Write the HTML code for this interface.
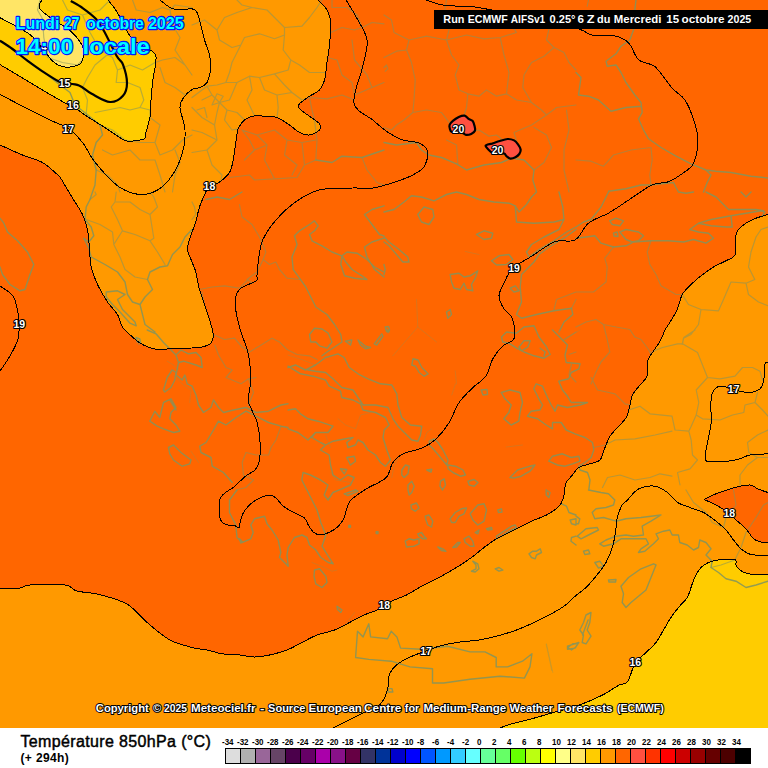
<!DOCTYPE html>
<html><head><meta charset="utf-8"><title>Meteociel - Température 850hPa</title>
<style>
html,body{margin:0;padding:0;background:#fff;}
body{width:768px;height:768px;overflow:hidden;position:relative;font-family:"Liberation Sans",sans-serif;}
svg{position:absolute;left:0;top:0;display:block;}
text{font-family:"Liberation Sans",sans-serif;}
</style></head><body>
<svg width="768" height="768" viewBox="0 0 768 768">
<rect x="0" y="0" width="768" height="768" fill="#fff"/>
<rect x="0" y="0" width="768" height="728" fill="#FF6600"/>
<g shape-rendering="crispEdges">
<path d="M0.0,145.0 C3.8,146.7 15.4,152.1 22.5,155.0 C29.6,157.9 37.1,159.6 42.5,162.5 C47.9,165.4 52.1,170.1 55.0,172.5 C57.9,174.9 57.7,174.0 60.0,177.2 C62.3,180.4 66.1,187.5 68.6,191.6 C71.1,195.7 72.7,198.2 75.0,202.0 C77.3,205.8 80.4,209.9 82.5,214.5 C84.6,219.1 86.3,223.7 87.5,229.5 C88.7,235.3 88.9,243.2 89.5,249.5 C90.1,255.8 89.9,261.2 91.2,267.0 C92.6,272.8 94.8,278.7 97.5,284.5 C100.2,290.3 104.2,297.0 107.5,302.0 C110.8,307.0 115.0,310.3 117.5,314.5 C120.0,318.7 120.0,323.2 122.5,327.0 C125.0,330.8 129.2,334.1 132.5,337.0 C135.8,339.9 138.3,342.4 142.5,344.5 C146.7,346.6 152.1,348.9 157.5,349.5 C162.9,350.1 169.2,348.5 175.0,348.2 C180.8,348.0 187.5,348.2 192.0,348.0 C196.5,347.8 198.9,347.8 202.0,347.0 C205.1,346.2 208.9,345.3 210.8,343.2 C212.6,341.2 213.5,338.5 213.2,334.5 C213.0,330.5 211.0,324.5 209.5,319.5 C208.0,314.5 206.2,309.5 204.5,304.5 C202.8,299.5 201.0,294.9 199.5,289.5 C198.0,284.1 197.0,276.6 195.8,272.0 C194.5,267.4 193.4,265.9 192.0,262.0 C190.6,258.1 187.7,253.4 187.5,248.9 C187.3,244.4 189.6,239.5 191.0,235.0 C192.4,230.5 194.3,226.7 195.8,222.0 C197.2,217.3 197.8,212.0 199.5,207.0 C201.2,202.0 204.2,195.5 205.8,192.0 C207.3,188.5 207.3,187.2 209.0,185.8 C210.7,184.4 213.8,184.5 215.8,183.8 C217.7,183.0 218.5,183.1 220.8,181.2 C223.0,179.4 227.4,176.0 229.5,172.5 C231.6,169.0 232.2,165.0 233.2,160.0 C234.3,155.0 234.9,147.7 235.8,142.5 C236.6,137.3 236.8,132.5 238.2,128.8 C239.7,125.0 241.8,122.2 244.5,120.0 C247.2,117.8 251.2,116.4 254.5,115.8 C257.8,115.1 260.8,116.0 264.5,116.2 C268.2,116.5 272.8,116.0 277.0,117.5 C281.2,119.0 285.8,122.5 289.5,125.0 C293.2,127.5 296.2,130.8 299.5,132.5 C302.8,134.2 306.2,135.4 309.5,135.0 C312.8,134.6 317.8,131.9 319.5,130.0 C321.2,128.1 321.2,126.0 319.5,123.8 C317.8,121.5 312.8,118.8 309.5,116.2 C306.2,113.8 301.2,110.8 299.5,108.8 C297.8,106.7 297.8,105.8 299.5,103.8 C301.2,101.7 306.2,98.5 309.5,96.2 C312.8,94.0 317.0,92.7 319.5,90.0 C322.0,87.3 323.2,84.6 324.5,80.0 C325.8,75.4 326.2,68.3 327.0,62.5 C327.8,56.7 328.9,51.7 329.5,45.0 C330.1,38.3 331.2,28.3 330.8,22.5 C330.3,16.7 329.1,13.8 327.0,10.0 C324.9,6.2 319.7,1.7 318.2,0.0 L0.0,0.0Z" fill="#FF9900"/>
<path d="M768.0,214.0 C767.7,214.2 768.0,214.3 766.0,215.0 C764.0,215.7 759.3,216.9 756.0,218.2 C752.7,219.6 748.9,221.4 746.0,223.2 C743.1,225.1 740.2,227.2 738.5,229.5 C736.8,231.8 736.0,232.8 735.5,237.0 C735.0,241.2 736.8,250.5 735.2,254.5 C733.7,258.5 729.6,258.7 726.0,260.8 C722.4,262.8 717.7,264.5 713.5,267.0 C709.3,269.5 705.0,272.6 701.0,275.8 C697.0,278.9 692.9,282.6 689.8,285.8 C686.6,288.9 683.9,291.8 682.2,294.5 C680.6,297.2 680.8,299.1 679.8,302.0 C678.7,304.9 677.9,308.2 676.0,312.0 C674.1,315.8 670.3,321.5 668.5,324.5 C666.7,327.5 666.4,327.2 665.0,330.0 C663.6,332.8 662.1,337.5 660.0,341.2 C657.9,345.0 654.6,349.2 652.5,352.5 C650.4,355.8 648.4,357.3 647.5,361.2 C646.6,365.2 648.2,372.3 647.0,376.2 C645.8,380.2 642.4,381.9 640.0,385.0 C637.6,388.1 634.2,391.7 632.5,395.0 C630.8,398.3 631.0,401.2 630.0,405.0 C629.0,408.8 628.3,413.8 626.2,417.5 C624.2,421.2 620.2,424.4 617.5,427.5 C614.8,430.6 612.1,432.9 610.0,436.2 C607.9,439.6 606.7,443.5 605.0,447.5 C603.3,451.5 602.5,457.3 600.0,460.0 C597.5,462.7 593.5,462.5 590.0,463.8 C586.5,465.0 581.7,465.6 578.8,467.5 C575.8,469.4 574.6,472.5 572.5,475.0 C570.4,477.5 567.6,480.0 566.2,482.5 C564.9,485.0 565.0,487.5 564.5,490.0 C564.0,492.5 564.4,494.8 563.5,497.5 C562.6,500.2 561.8,503.3 559.0,506.2 C556.2,509.2 551.1,512.5 546.5,515.0 C541.9,517.5 536.9,518.8 531.5,521.2 C526.1,523.8 519.8,527.1 514.0,530.0 C508.2,532.9 501.5,535.8 496.5,538.8 C491.5,541.7 488.2,544.4 484.0,547.5 C479.8,550.6 476.1,554.2 471.5,557.5 C466.9,560.8 461.9,564.2 456.5,567.5 C451.1,570.8 444.8,574.4 439.0,577.5 C433.2,580.6 426.9,583.3 421.5,586.2 C416.1,589.2 411.5,592.5 406.5,595.0 C401.5,597.5 396.2,598.8 391.5,601.2 C386.8,603.7 382.3,607.4 378.2,609.5 C374.2,611.6 371.4,611.8 367.0,613.8 C362.6,615.7 357.4,618.5 352.0,621.2 C346.6,624.0 340.3,627.7 334.5,630.0 C328.7,632.3 322.4,632.9 317.0,635.0 C311.6,637.1 307.0,640.0 302.0,642.5 C297.0,645.0 292.4,647.9 287.0,650.0 C281.6,652.1 274.9,653.8 269.5,655.0 C264.1,656.2 259.5,657.0 254.5,657.0 C249.5,657.0 244.9,655.5 239.5,655.0 C234.1,654.5 227.4,654.6 222.0,653.8 C216.6,652.9 212.0,651.0 207.0,650.0 C202.0,649.0 198.2,649.2 192.0,647.5 C185.8,645.8 177.0,643.8 170.0,640.0 C163.0,636.2 156.2,630.2 150.0,625.0 C143.8,619.8 137.5,612.5 133.0,608.7 C128.5,604.9 129.1,604.5 123.0,602.0 C117.0,599.5 104.4,595.8 96.7,594.0 C89.0,592.2 82.0,592.5 76.7,591.0 C71.4,589.5 72.8,586.0 65.0,585.0 C57.2,584.0 37.5,584.5 30.0,585.0 C22.5,585.5 25.0,587.5 20.0,588.0 C15.0,588.5 3.3,588.0 0.0,588.0 L0.0,728.0 L768.0,728.0Z" fill="#FF9900"/>
<path d="M704.0,499.5 C706.0,498.5 710.8,495.8 716.0,493.8 C721.2,491.8 729.3,489.0 735.0,487.5 C740.7,486.0 746.2,484.8 750.0,485.0 C753.8,485.2 754.5,487.5 757.5,488.8 C760.5,490.0 766.2,491.9 768.0,492.5 L768,543  C766.8,542.8 763.4,542.7 761.0,542.0 C758.6,541.3 756.0,541.0 753.5,538.8 C751.0,536.5 748.9,531.9 746.0,528.8 C743.1,525.6 739.3,522.9 736.0,520.0 C732.7,517.1 729.3,513.8 726.0,511.2 C722.7,508.8 719.7,507.0 716.0,505.0 C712.3,503.0 706.0,500.4 704.0,499.5Z" fill="#FF6600"/>
<path d="M500.0,728.0 C502.0,727.3 506.7,725.2 512.0,723.7 C517.3,722.2 524.8,720.7 532.0,718.7 C539.2,716.8 547.5,714.2 555.3,712.0 C563.1,709.8 570.9,708.1 578.7,705.3 C586.5,702.5 595.3,698.6 602.0,695.3 C608.7,692.0 614.5,687.5 618.7,685.3 C622.9,683.1 625.0,684.5 627.2,682.0 C629.5,679.5 630.9,673.3 632.2,670.0 C633.6,666.7 633.2,664.9 635.5,662.0 C637.8,659.1 642.6,655.8 646.0,652.5 C649.4,649.2 653.1,646.2 656.0,642.5 C658.9,638.8 661.0,634.2 663.5,630.0 C666.0,625.8 668.5,621.2 671.0,617.5 C673.5,613.8 675.8,610.8 678.5,607.5 C681.2,604.2 685.2,600.8 687.2,597.5 C689.3,594.2 689.8,590.8 691.0,587.5 C692.2,584.2 693.1,580.8 694.8,577.5 C696.4,574.2 698.7,570.0 701.0,567.5 C703.3,565.0 705.6,563.8 708.5,562.5 C711.4,561.2 714.1,560.5 718.5,560.0 C722.9,559.5 731.8,558.7 734.8,559.5 C737.7,560.3 735.2,563.2 736.0,565.0 C736.8,566.8 737.7,568.5 739.8,570.0 C741.8,571.5 745.4,573.0 748.5,573.8 C751.6,574.5 755.2,574.4 758.5,574.5 C761.8,574.6 766.4,574.3 768.0,574.2 L768.0,728.0Z" fill="#FFCC00"/>
<path d="M108.0,0.0 C109.5,1.9 113.9,7.0 116.7,11.5 C119.5,16.0 122.3,22.3 125.0,27.0 C127.7,31.7 128.3,35.4 133.0,39.6 C137.7,43.8 149.2,48.5 153.0,52.0 C156.8,55.5 156.0,55.9 156.0,60.4 C156.0,64.9 153.8,72.4 153.0,79.0 C152.2,85.6 151.5,93.7 151.0,100.0 C150.5,106.3 150.9,111.2 150.0,116.7 C149.1,122.2 146.8,129.3 145.8,133.0 C144.8,136.7 146.9,137.7 143.8,139.0 C140.7,140.3 131.5,141.6 127.0,141.0 C122.5,140.4 120.5,137.7 116.7,135.4 C112.9,133.1 108.9,130.1 104.0,127.0 C99.1,123.9 92.0,119.6 87.5,116.7 C83.0,113.8 80.5,111.5 77.0,109.4 C73.5,107.3 72.6,107.3 66.7,104.0 C60.8,100.7 49.4,94.1 41.7,89.6 C34.1,85.1 27.8,81.2 20.8,77.0 C13.9,72.8 3.5,66.7 0.0,64.6 L0.0,0.0Z" fill="#FFCC00"/>
<path d="M41.7,0.0 C41.4,1.4 37.9,5.2 39.6,8.3 C41.3,11.4 46.8,15.0 52.0,18.8 C57.2,22.6 65.8,26.8 70.8,31.3 C75.8,35.8 80.2,41.6 82.3,45.8 C84.4,50.0 83.8,53.2 83.3,56.3 C82.8,59.4 82.3,62.8 79.2,64.6 C76.1,66.4 69.0,67.5 64.6,67.0 C60.2,66.5 56.3,64.2 53.0,61.5 C49.7,58.8 48.5,55.4 44.8,51.0 C41.1,46.6 35.9,39.6 31.0,35.4 C26.1,31.2 20.8,28.9 15.6,26.0 C10.4,23.1 2.6,19.1 0.0,17.7 L0.0,0.0Z" fill="#FFE566"/>
<path d="M449.7,124.7 C450.2,123.5 451.4,122.1 452.9,120.8 C454.4,119.5 456.9,117.8 458.8,116.9 C460.8,116.0 463.0,115.3 464.6,115.6 C466.2,115.9 467.3,118.0 468.6,118.9 C469.9,119.8 471.5,119.7 472.5,120.8 C473.5,121.9 474.0,123.8 474.4,125.4 C474.8,127.0 475.5,129.2 475.0,130.6 C474.5,132.0 472.7,133.2 471.2,133.9 C469.7,134.6 467.5,135.1 466.0,134.9 C464.5,134.7 464.3,133.1 462.0,132.6 C459.7,132.1 454.1,132.8 452.0,132.0 C449.9,131.2 450.1,129.2 449.7,128.0 C449.3,126.8 449.2,125.9 449.7,124.7Z" fill="#FF5040"/>
<path d="M486.8,144.9 C487.8,144.3 489.8,144.2 492.0,143.6 C494.2,142.9 497.2,141.8 499.8,141.0 C502.4,140.2 505.2,139.1 507.6,139.0 C510.0,138.9 512.4,139.5 514.1,140.4 C515.8,141.3 516.9,142.8 518.0,144.3 C519.1,145.8 520.4,147.9 520.6,149.5 C520.8,151.1 520.2,152.7 519.3,154.0 C518.4,155.3 516.9,156.5 515.4,157.3 C513.9,158.1 511.7,158.8 510.2,158.6 C508.7,158.4 507.4,156.9 506.3,156.0 C505.2,155.1 505.9,153.8 503.7,153.4 C501.5,153.0 496.2,154.5 493.3,153.4 C490.4,152.3 487.2,148.3 486.1,146.9 C485.0,145.5 485.8,145.5 486.8,144.9Z" fill="#FF5040"/>
</g>
<g fill="none" stroke-linejoin="round" stroke-linecap="round" stroke="#80945E">
<path d="M0.0,41.2 L10.0,47.5 L22.5,56.2 L35.0,66.2 L47.5,75.0 L60.0,85.0 L70.0,92.5 L75.0,105.0 L86.2,113.8 L100.0,125.0 L102.5,135.0 L96.2,142.5 L92.5,155.0 L96.2,170.0 L95.0,185.0 L92.5,192.0 M315.8,160.0 L332.0,162.5 L342.0,156.2 L362.0,157.5 L384.0,150.0 M384.0,142.5 L396.5,145.0 L416.5,142.5 L421.5,150.0 L429.0,155.0 L441.5,157.5 L456.5,163.8 L466.5,170.0 L484.0,165.0 L501.5,162.5 L511.5,158.0 M511.5,158.0 L524.0,160.0 L534.0,170.0 L532.8,180.0 L536.5,192.0 M636.0,0.0 L634.8,10.0 L633.5,30.0 L629.8,40.0 L621.0,46.2 L616.0,53.8 L606.0,61.2 L607.2,66.2 L616.0,65.0 L621.0,72.5 L626.0,82.5 L634.8,95.0 L641.0,102.5 L642.2,112.5 L638.5,118.8 L643.5,130.0 L648.5,138.8 L661.0,147.5 L676.0,156.2 L691.0,163.8 L706.0,170.0 L716.0,171.2 L731.0,172.5 L751.0,176.2 L768.0,178.0 M576.0,72.5 L581.0,77.5 L578.5,95.0 L588.5,96.2 L598.5,100.0 L611.0,111.2 L626.0,107.5 L641.0,106.2 M706.0,170.0 L711.0,175.0 L707.2,182.5 L703.5,192.0 M608.5,191.2 L626.0,188.8 L641.0,185.0 L651.0,185.0 L661.0,183.8 L673.5,182.5 L676.0,187.5 L678.5,192.0 M0.0,218.2 L3.8,223.2 L7.5,232.0 L17.5,240.8 L27.5,252.0 L33.8,264.5 L30.0,274.5 L25.0,289.5 L20.0,290.8 L10.0,284.5 L2.5,274.5 L0.0,267.0 M92.5,192.0 L90.0,199.5 L86.2,207.0 L85.0,219.5 L91.2,227.0 L93.8,235.8 L88.8,242.0 L83.8,238.2 L88.8,248.2 L91.2,257.0 L105.0,264.5 L117.5,272.0 L125.0,282.0 L127.5,294.5 L132.5,302.0 L140.0,304.5 L142.5,314.5 L145.0,324.5 L155.0,332.0 M106.2,292.0 L117.5,290.8 L125.0,294.5 L117.5,299.5 L122.5,309.5 L130.0,317.0 L135.0,322.0 L136.2,325.8 L130.0,323.2 L120.0,312.0 L112.5,304.5 L106.2,297.0 L106.2,292.0 M147.5,279.5 L150.0,272.0 L160.0,267.0 L167.5,265.8 L172.5,254.5 L180.0,247.0 L185.0,237.0 L192.0,229.5 M147.5,279.5 L152.5,289.5 L145.0,297.0 L140.0,304.5 M294.5,235.8 L299.5,230.8 L309.5,224.5 L314.5,220.8 L318.2,225.8 L314.5,230.8 L309.5,234.5 L312.0,240.8 L322.0,245.8 L332.0,252.0 L342.0,255.8 L347.0,252.0 L357.0,253.2 L367.0,259.5 L374.5,267.0 L384.0,272.0 M342.0,255.8 L340.8,264.5 L344.5,275.8 L354.5,278.2 L367.0,279.5 L362.0,275.8 L352.0,269.5 L345.8,262.0 L342.0,255.8 M384.0,238.2 L372.0,242.0 L364.5,247.0 L367.0,257.0 L374.5,269.5 L384.0,277.0 M384.0,205.8 L372.0,209.5 L364.5,214.5 L372.0,224.5 L379.5,234.5 L384.0,235.8 M294.5,235.8 L297.0,244.5 L292.0,257.0 L293.2,269.5 L299.5,278.2 L305.8,287.0 L310.8,297.0 L315.8,307.0 L327.0,314.5 L334.5,324.5 L340.8,334.5 L342.0,342.0 L334.5,347.0 L327.0,352.0 L322.0,355.8 M309.5,334.5 L314.5,328.2 L322.0,329.0 L328.2,333.2 L332.0,342.0 L327.0,348.2 L319.5,345.8 L315.8,342.0 L310.8,342.0 L309.5,334.5 M205.8,199.5 L217.0,197.0 L229.5,199.5 L242.0,192.0 M384.0,212.0 L394.0,209.5 L404.0,202.0 L411.5,195.8 L421.5,197.0 L434.0,200.8 L446.5,194.5 L456.5,192.0 M456.5,192.0 L466.5,194.5 L479.0,199.5 L494.0,202.0 L509.0,203.2 L515.2,205.8 L519.0,212.0 L526.5,204.5 L531.5,197.0 L536.5,192.0 M417.8,214.5 L424.0,207.0 L432.8,209.5 L434.0,217.0 L429.0,224.5 L421.5,222.0 L417.8,214.5 M476.5,234.5 L484.0,230.8 L492.8,233.2 L491.5,238.2 L484.0,239.5 L476.5,234.5 M515.2,205.8 L516.5,222.0 L534.0,223.2 L554.0,222.0 L564.0,219.5 L562.8,207.0 L559.0,192.0 M564.0,219.5 L559.0,229.5 L544.0,237.0 L531.5,244.5 L526.5,252.0 L529.0,257.0 L539.0,249.5 L554.0,240.8 L566.5,232.0 L576.0,227.0 M576.0,229.5 L564.0,238.2 L549.0,247.0 L539.0,254.5 L534.0,262.0 L526.5,269.5 L521.5,274.5 L520.2,287.0 L521.5,302.0 L516.5,314.5 L521.5,318.2 L536.5,314.5 L554.0,310.8 L571.5,308.2 L572.8,314.5 L564.0,322.0 L559.0,332.0 M491.5,260.8 L499.0,255.8 L509.0,254.5 L512.8,259.5 L506.5,264.5 L496.5,265.0 L491.5,260.8 M510.2,288.2 L515.2,285.8 L519.0,290.8 L514.0,292.0 L510.2,288.2 M450.2,274.5 L459.0,273.2 L464.0,277.0 L470.2,275.8 L477.8,270.8 L475.2,278.2 L471.5,284.5 L472.8,290.8 L466.5,289.5 L464.0,283.2 L460.2,289.5 L454.0,288.2 L451.5,282.0 L450.2,274.5 M446.5,312.0 L450.2,309.5 L451.5,314.5 L447.8,318.2 L446.5,312.0 M384.0,237.0 L389.0,242.0 L399.0,249.5 L407.8,257.0 L409.0,262.0 L402.8,262.0 L396.5,254.5 L389.0,245.8 L384.0,242.0 M384.0,264.5 L385.2,269.5 L384.0,274.5 M385.2,327.0 L388.5,326.5 L389.5,330.0 L386.5,331.5 L385.2,327.0 M501.5,337.0 L506.5,332.0 L516.5,333.2 L524.0,327.0 L534.0,325.8 L539.0,337.0 L546.5,347.0 L550.2,354.5 L544.0,358.2 L534.0,355.8 L524.0,352.0 L516.5,348.2 L509.0,343.2 L502.8,342.0 L501.5,337.0 M519.0,347.0 L524.0,340.8 L530.2,340.8 L527.8,347.0 L521.5,350.8 L519.0,347.0 M540.2,348.2 L545.2,352.0 L544.0,355.8 M576.0,227.0 L583.5,222.0 L591.0,219.5 L601.0,207.0 L608.5,192.0 M609.8,220.8 L616.0,218.2 L623.5,220.8 L619.8,225.8 L612.2,224.5 L609.8,220.8 M619.8,232.0 L626.0,229.5 L638.5,232.0 L643.5,235.8 L638.5,240.8 L632.2,242.0 L626.0,239.5 L619.8,232.0 M613.5,233.2 L617.2,232.0 L618.0,236.5 L614.0,236.0 L613.5,233.2 M576.0,238.2 L586.0,237.0 L594.8,235.8 L601.0,243.2 L613.5,247.0 L626.0,245.8 L633.5,242.0 L651.0,240.8 L668.5,240.8 L683.5,242.0 L693.5,239.5 L706.0,243.2 L713.5,238.2 L708.5,233.2 L698.5,232.0 L689.8,229.5 L698.5,223.2 L711.0,219.5 L731.0,215.8 L746.0,213.2 L761.0,210.8 L764.8,212.0 L762.2,215.8 M706.0,192.0 L716.0,197.0 L723.5,204.5 L728.5,209.5 L741.0,209.5 L756.0,209.5 L763.5,210.8 M741.0,192.0 L746.0,197.0 L751.0,192.0 M678.5,192.0 L686.0,193.2 L693.5,192.0 M731.0,215.8 L732.2,227.0 L726.0,227.0 L711.0,225.8 L698.5,223.2 M147.2,330.0 L156.0,333.8 L163.5,342.5 L171.0,350.0 L176.0,355.0 L178.5,362.5 L183.5,361.2 L196.0,365.0 L202.2,367.5 L201.0,357.5 L196.0,352.5 L188.5,353.8 L181.0,350.0 L176.0,355.0 M163.5,390.0 L167.2,377.5 L172.2,370.0 L176.0,372.5 L174.8,380.0 L171.0,387.5 L164.8,392.0 L163.5,390.0 M178.5,362.5 L176.0,375.0 L182.2,380.0 L184.8,375.0 L187.2,383.8 L192.2,386.2 L196.0,395.0 L198.5,405.0 L203.5,412.5 L211.0,407.5 L213.5,400.0 L218.5,407.5 L223.5,412.5 L233.5,410.0 L246.0,407.5 L256.0,412.5 L268.5,411.2 L281.0,405.0 L288.0,403.8 M149.8,421.2 L154.8,411.2 L159.8,417.5 L163.5,402.5 L171.0,398.8 L176.0,407.5 L171.0,412.5 L169.8,418.8 L176.0,425.0 L179.8,431.2 L173.5,432.5 L163.5,428.8 L157.2,426.2 L149.8,421.2 M169.8,400.0 L172.2,403.8 L176.0,410.0 M168.5,447.5 L173.5,445.0 L181.0,452.5 L191.0,460.0 L189.8,463.8 L182.2,466.2 L173.5,460.0 L169.8,453.8 L168.5,447.5 M218.5,421.2 L213.5,430.0 L206.0,442.5 L199.8,446.2 L201.0,452.5 L211.0,457.5 L212.2,466.2 L223.5,472.5 L232.2,482.5 M218.5,421.2 L226.0,425.0 L236.0,417.5 L246.0,411.2 L256.0,416.2 L268.5,422.5 L281.0,426.2 L288.0,427.5 M136.0,337.5 L139.8,338.8 L140.5,342.5 L137.2,342.0 L136.0,337.5 M288.0,367.5 L295.5,365.0 L305.5,370.0 L315.5,365.0 L325.5,357.5 L338.0,353.8 L344.2,357.5 L349.2,367.5 L358.0,373.8 L368.0,378.8 L380.5,383.8 L391.8,385.0 L396.8,393.8 L398.0,405.0 L401.8,417.5 L410.5,425.0 L421.8,426.2 L420.5,435.0 L418.0,441.2 L411.8,440.0 L405.5,433.8 L398.0,426.2 L393.0,418.8 L388.0,407.5 L375.5,405.0 L363.0,405.0 L358.0,397.5 L353.0,390.0 L341.8,387.5 L333.0,378.8 L325.5,372.5 L315.5,371.2 L308.0,370.0 M288.0,366.2 L300.5,373.8 L313.0,376.2 L325.5,380.0 L329.2,386.2 L340.5,391.2 L341.8,397.5 L353.0,400.0 L360.5,403.8 L363.0,410.0 L375.5,412.5 L385.5,417.5 L389.2,425.0 L384.2,430.0 L383.0,437.5 L386.8,450.0 L390.5,460.0 L385.5,466.2 L380.5,462.5 L375.5,455.0 L368.0,450.0 L363.0,442.5 L358.0,440.0 L355.5,445.0 L348.0,447.5 L346.8,442.5 L353.0,437.5 L345.5,438.8 L333.0,441.2 L325.5,445.0 L320.5,450.0 L329.2,455.0 L330.5,465.0 L333.0,475.0 L340.5,480.0 L348.0,475.0 L354.2,477.5 L350.5,485.0 L341.8,488.8 L333.0,492.5 L328.0,500.0 L324.2,495.0 L328.0,485.0 L320.5,480.0 L310.5,475.0 L303.0,472.5 L301.8,480.0 L306.8,490.0 M288.0,410.0 L295.5,408.8 L300.5,413.8 L308.0,418.8 L318.0,421.2 L333.0,426.2 L328.0,432.5 L315.5,432.5 L311.8,437.5 L320.5,442.5 L325.5,445.0 M288.0,428.8 L298.0,432.5 L308.0,440.0 L315.5,432.5 M345.5,341.2 L351.8,340.0 L350.5,345.0 L345.5,341.2 M358.0,340.0 L365.5,346.2 L370.5,347.5 L365.5,348.8 L360.5,345.0 L358.0,340.0 M374.2,343.8 L381.8,333.8 L383.0,336.2 L376.8,345.0 L374.2,343.8 M386.8,330.0 L389.2,331.2 L388.0,332.5 L386.8,330.0 M413.0,358.8 L418.0,360.0 L421.8,367.5 L428.0,373.8 L424.2,376.2 L419.2,372.5 L415.5,366.2 L411.8,365.0 L413.0,358.8 M429.2,441.2 L434.2,438.8 L438.0,442.5 L443.0,450.0 L448.0,460.0 L446.8,465.0 L440.5,457.5 L434.2,450.0 L429.2,445.0 L429.2,441.2 M448.0,465.0 L455.5,466.2 L463.0,470.0 L465.5,475.0 L460.5,476.2 L453.0,472.5 L448.0,468.8 L448.0,465.0 M468.0,481.2 L474.2,479.5 L478.0,482.5 L474.2,486.2 L469.2,485.0 L468.0,481.2 M401.8,470.0 L405.5,465.0 L409.2,466.2 L408.0,473.8 L404.2,477.5 L401.8,475.0 L401.8,470.0 M408.0,485.0 L411.8,481.2 L414.2,486.2 L411.8,492.5 L409.2,495.0 L408.0,490.0 L408.0,485.0 M440.5,481.2 L444.2,478.8 L445.5,485.0 L442.5,490.0 L440.0,486.2 L440.5,481.2 M426.8,470.0 L431.8,469.2 L431.0,472.0 L426.8,470.0 M346.8,457.5 L354.2,456.2 L355.5,461.2 L350.5,465.0 L346.8,457.5 M340.5,468.8 L346.8,469.5 L344.2,473.8 L340.5,468.8 M344.2,493.8 L355.5,490.0 L358.0,491.2 L348.0,495.5 L344.2,493.8 M552.5,330.0 L560.0,337.5 L567.5,345.0 L565.0,355.0 L566.2,362.5 L580.0,363.8 L578.8,368.8 L571.2,372.5 L568.8,378.8 L558.8,381.2 L562.5,390.0 L567.5,396.2 L571.2,402.5 L580.0,402.5 L587.5,402.5 L580.0,405.0 L567.5,407.5 L557.5,405.0 L555.0,411.2 L551.2,405.0 L547.5,397.5 L542.5,386.2 L536.2,383.8 L533.8,388.8 L538.8,398.8 L542.5,405.0 L540.0,410.0 L531.2,411.2 L527.5,416.2 L537.5,418.8 L546.2,425.0 L552.5,428.8 L552.5,422.5 L561.2,422.5 L566.2,430.0 L575.0,433.8 L585.0,437.5 L592.5,442.5 L593.8,450.0 L591.2,457.5 L585.0,462.5 L578.8,466.2 L580.0,470.0 L587.5,472.5 L590.0,480.0 L588.8,490.0 M501.2,392.5 L510.0,390.0 L520.0,392.5 L522.5,402.5 L520.0,412.5 L518.8,421.2 L511.2,425.0 L503.8,418.8 L508.8,412.5 L511.2,405.0 L505.0,398.8 L501.2,392.5 M481.2,390.0 L487.0,389.5 L487.5,394.5 L483.0,395.0 L481.2,390.0 M548.8,461.2 L552.5,456.2 L562.5,453.8 L571.2,457.5 L578.8,456.2 L580.0,461.2 L572.5,463.8 L565.0,466.2 L557.5,465.0 L548.8,461.2 M510.0,477.5 L517.5,470.0 L530.0,466.2 L535.0,465.0 L530.0,471.2 L521.2,476.2 L513.8,478.0 L510.0,477.5 M546.2,490.0 L550.0,492.5 L548.8,497.5 L546.2,495.0 L546.2,490.0 M237.0,490.0 L229.5,500.0 L229.5,512.5 L235.8,525.0 L237.0,537.5 L242.0,542.5 L250.8,538.8 L253.2,532.5 L250.8,525.0 L254.5,518.8 L264.5,516.2 L267.0,523.8 L272.0,530.0 L278.2,540.0 L280.8,552.5 L279.5,557.5 L285.8,563.8 L288.2,566.2 L287.0,555.0 L288.2,547.5 L294.5,537.5 L302.0,535.0 L307.0,537.5 L309.5,545.0 L315.8,550.0 L320.8,557.5 L328.2,562.5 L333.2,563.8 L328.2,556.2 L322.0,546.2 L325.8,535.0 L320.8,522.5 L317.0,510.0 L313.2,502.5 L307.0,490.0 M314.5,570.0 L319.5,568.8 L325.8,576.2 L327.0,582.5 L322.0,587.5 L315.8,583.8 L314.0,576.2 L314.5,570.0 M337.0,606.2 L342.0,610.0 L340.8,612.5 L337.5,609.5 L337.0,606.2 M348.8,525.5 L350.5,525.5 L350.5,527.2 L348.8,527.2 L348.8,525.5 M376.2,531.8 L378.0,531.8 L378.0,533.5 L376.2,533.5 L376.2,531.8 M239.5,538.8 L242.0,541.2 L240.8,543.0 L239.5,538.8 M411.0,505.0 L416.5,503.0 L419.0,508.0 L415.2,511.2 L411.5,508.8 L411.0,505.0 M425.2,516.2 L429.0,515.0 L432.8,521.2 L431.5,527.0 L427.8,525.0 L426.0,520.0 L425.2,516.2 M450.2,518.8 L455.2,512.5 L461.5,508.8 L466.5,508.0 L464.0,513.8 L459.0,516.2 L455.2,522.5 L451.5,522.5 L450.2,518.8 M470.2,513.8 L477.8,505.0 L484.0,503.8 L486.5,510.0 L484.0,521.2 L477.8,525.0 L472.8,520.0 L470.2,513.8 M497.8,510.0 L501.5,508.8 L502.0,512.0 L498.5,512.5 L497.8,510.0 M486.5,528.8 L491.5,527.5 L492.0,529.5 L487.8,530.0 L486.5,528.8 M475.2,532.5 L479.0,530.0 L477.8,533.8 L475.2,532.5 M496.5,536.2 L504.0,531.2 L511.5,526.2 L515.2,525.0 L516.5,527.5 L509.0,531.2 L501.5,536.2 L496.5,538.8 L496.5,536.2 M405.2,541.2 L409.0,538.8 L414.0,540.0 L419.0,538.8 L419.0,543.8 L414.0,546.2 L406.5,547.0 L405.2,541.2 M417.8,533.8 L421.5,532.5 L424.0,536.2 L426.5,538.8 L422.8,538.8 L419.0,536.2 L417.8,533.8 M437.8,547.0 L442.8,548.8 L446.0,551.2 L441.5,550.5 L437.8,547.0 M452.8,547.5 L457.8,542.5 L460.2,542.5 L456.5,547.0 L452.8,547.5 M464.0,538.8 L469.0,536.2 L472.8,541.2 L474.0,546.2 L470.2,546.2 L465.2,542.5 L464.0,538.8 M472.8,561.2 L477.8,563.8 L479.0,568.8 L475.2,572.0 L471.5,571.2 L476.0,568.8 L476.0,565.0 L472.8,561.2 M495.2,568.8 L499.0,567.5 L502.8,570.0 L499.0,571.2 L495.2,568.8 M529.0,553.8 L532.8,551.2 L536.5,551.2 L540.2,548.8 L541.5,552.5 L536.5,555.0 L535.2,558.8 L531.5,557.5 L529.0,553.8 M561.5,503.8 L566.5,506.2 L569.0,512.5 L576.0,515.0 M570.2,520.0 L576.0,518.8 L576.0,525.0 L571.5,523.8 L570.2,520.0 M571.5,537.5 L576.0,536.2 M571.5,537.5 L571.0,541.2 L576.0,545.0 M567.8,647.5 L572.8,643.8 L576.0,643.8 M567.8,647.5 L571.5,650.0 L576.0,647.0 M355.6,657.5 L357.5,631.2 L363.1,636.9 L368.8,623.8 L370.6,636.9 L387.5,638.8 L391.2,631.2 L396.9,636.9 L400.6,648.1 L421.2,649.2 L447.5,646.2 L470.0,651.9 L485.0,651.9 L496.2,657.5 L496.2,666.9 L507.5,666.9 L522.5,661.2 L531.9,653.8 L530.0,666.9 L524.4,678.1 L500.0,676.2 L470.0,679.2 L443.8,683.0 L432.5,683.0 L432.5,668.8 L410.0,666.9 L391.2,661.2 L368.8,659.4 L355.6,657.5 M387.5,688.6 L392.0,688.6 L392.8,692.0 L388.2,692.0 L387.5,688.6 M567.5,646.2 L578.8,642.5 L575.0,648.1 L567.5,649.2 L567.5,646.2 M582.5,635.0 L588.1,620.0 M588.5,490.0 L601.0,492.5 L608.5,493.8 L614.8,500.0 L613.5,505.0 L606.0,507.5 L596.0,508.8 L592.2,512.5 L594.8,518.8 L603.5,517.5 L616.0,521.2 L626.0,518.8 L641.0,517.5 L661.0,515.0 L651.0,521.2 L642.2,526.2 L643.5,535.0 L633.5,536.2 L626.0,535.0 L616.0,536.2 L606.0,540.0 L599.8,543.8 L603.5,546.2 L613.5,543.8 L621.0,538.8 L633.5,538.8 L646.0,538.8 L648.5,543.8 L641.0,548.8 L638.5,552.5 L644.8,551.2 L653.5,543.8 L658.5,538.8 L656.0,533.8 L663.5,531.2 L669.8,530.0 L672.2,535.0 L678.5,535.0 L679.8,542.5 L687.2,545.0 L693.5,550.0 L698.5,547.5 L699.8,540.0 L706.0,542.5 L711.0,548.8 L706.0,555.0 L712.2,561.2 L711.0,567.5 L718.5,572.5 L726.0,578.8 L736.0,581.2 L746.0,587.5 L756.0,585.0 L768.0,581.2 M577.2,536.2 L586.0,528.8 L597.2,527.5 L598.5,530.0 L588.5,535.0 L581.0,538.8 L577.2,536.2 M583.5,551.2 L588.5,550.0 L589.8,553.8 L584.8,554.5 L583.5,551.2 M594.8,562.5 L599.8,561.2 L603.5,566.2 L598.5,568.0 L594.8,562.5 M608.5,580.0 L616.0,579.5 L615.5,582.0 L609.0,582.0 L608.5,580.0 M621.0,586.2 L628.5,577.5 L641.0,568.8 L653.5,563.8 L656.0,565.0 L651.0,577.5 L646.0,590.0 L638.5,596.2 L631.0,602.5 L626.0,607.5 L622.2,602.5 L623.5,593.8 L621.0,586.2 M586.0,615.0 L591.0,612.5 L589.8,622.5 L587.2,630.0 L591.0,636.2 L586.0,643.8 L582.2,642.5 L583.5,635.0 L579.8,630.0 L583.5,622.5 L586.0,615.0 M576.0,516.2 L579.8,518.8 L578.5,523.8 L576.0,523.8" stroke-width="1.4" stroke-opacity="0.85"/>
<path d="M40.0,0.0 L37.5,10.0 L42.5,18.8 L43.8,37.5 L47.5,57.5 L62.5,62.5 L77.5,65.0 L82.5,60.0 M62.5,0.0 L67.5,10.0 L82.5,15.0 L90.0,32.5 L100.0,50.0 L112.5,57.5 L117.5,70.0 L116.2,82.5 L127.5,82.5 L140.0,87.5 L143.8,100.0 L140.0,107.5 L150.0,110.0 M132.5,0.0 L136.2,10.0 L150.0,12.5 L162.5,7.5 L170.0,10.0 L175.0,5.0 L192.0,7.5 M110.0,52.5 L95.0,65.0 L87.5,77.5 L82.5,87.5 L87.5,100.0 L86.2,113.8 M95.0,112.5 L107.5,110.0 L120.0,107.5 L130.0,110.0 L140.0,107.5 M155.0,62.5 L162.5,60.0 L175.0,57.5 L185.0,65.0 L192.0,75.0 M160.0,67.5 L165.0,82.5 L175.0,87.5 L185.0,95.0 L192.0,90.0 M150.0,110.0 L150.0,117.5 L160.0,125.0 L155.0,142.5 L160.0,155.0 L172.5,150.0 L182.5,140.0 L192.0,135.0 M100.0,125.0 L112.5,130.0 L125.0,140.0 L140.0,142.5 L155.0,142.5 M102.5,150.0 L112.5,155.0 L130.0,150.0 L140.0,160.0 L155.0,160.0 L160.0,175.0 L165.0,192.0 M96.2,170.0 L107.5,175.0 L117.5,185.0 L120.0,192.0 M175.0,150.0 L180.0,162.5 L175.0,175.0 L172.5,192.0 M170.0,10.0 L172.5,25.0 L180.0,37.5 L175.0,50.0 L185.0,65.0 M117.5,70.0 L130.0,65.0 L142.5,70.0 L155.0,62.5 M82.5,15.0 L100.0,10.0 L110.0,0.0 M217.0,30.0 L224.5,17.5 L237.0,12.5 L252.0,7.5 L267.0,10.0 L274.5,17.5 L284.5,27.5 L302.0,26.2 L309.5,17.5 L317.0,7.5 L322.0,0.0 M217.0,30.0 L219.5,40.0 L232.0,47.5 L240.8,45.0 L244.5,37.5 L259.5,33.8 L274.5,38.8 L284.5,35.0 L284.5,27.5 M284.5,35.0 L283.2,50.0 L290.8,60.0 L288.2,70.0 L274.5,73.8 L259.5,77.5 L249.5,76.2 L237.0,82.5 L225.8,82.5 L229.5,72.5 L232.0,62.5 L240.8,45.0 M274.5,73.8 L284.5,85.0 L292.0,92.5 L302.0,100.0 L309.5,97.5 M290.8,60.0 L299.5,65.0 L309.5,72.5 L324.5,72.5 M192.0,25.0 L204.5,20.0 L217.0,30.0 M237.0,0.0 L242.0,5.0 L252.0,7.5 M225.8,82.5 L217.0,85.0 L207.0,86.2 L192.0,97.5 M309.5,97.5 L312.0,110.0 L314.5,120.0 L317.0,140.0 L315.8,160.0 L304.5,165.0 L297.0,177.5 L274.5,178.8 L254.5,180.0 L249.5,175.0 L229.5,177.5 M362.0,157.5 L367.0,170.0 L377.0,182.5 L384.0,185.0 M332.0,0.0 L332.0,7.5 L347.0,7.5 L357.0,15.0 L362.0,27.5 M330.8,32.5 L342.0,27.5 L354.5,30.0 L362.0,27.5 L372.0,22.5 L384.0,23.8 M327.0,57.5 L337.0,60.0 L342.0,75.0 L352.0,82.5 L354.5,95.0 L372.0,87.5 L384.0,82.5 M309.5,97.5 L327.0,98.8 L342.0,95.0 L354.5,100.0 M352.0,40.0 L354.5,60.0 L367.0,75.0 L372.0,87.5 M242.0,130.0 L257.0,135.0 L267.0,145.0 L264.5,160.0 L274.5,178.8 M257.0,135.0 L274.5,130.0 L287.0,140.0 L302.0,142.5 L315.8,140.0 M287.0,140.0 L284.5,155.0 L297.0,165.0 M192.0,107.5 L202.0,117.5 L214.5,125.0 L217.0,140.0 L207.0,150.0 L212.0,165.0 L222.0,175.0 L220.8,181.2 M192.0,130.0 L202.0,132.5 L217.0,140.0 M192.0,152.5 L207.0,150.0 M207.0,86.2 L212.0,95.0 L219.5,102.5 L217.0,112.5 L214.5,125.0 M219.5,102.5 L229.5,100.0 L237.0,82.5 M219.5,102.5 L227.0,110.0 L237.0,112.5 L244.5,120.0 M202.0,100.0 L212.0,95.0 M212.0,105.0 L219.5,102.5 L223.2,96.2 L217.0,93.8 L212.0,105.0 M227.0,110.0 L224.5,120.0 L232.0,130.0 L238.2,128.8 M249.5,76.2 L252.0,90.0 L247.0,100.0 L254.5,115.8 M259.5,77.5 L264.5,90.0 L277.0,95.0 L278.2,107.5 L277.0,117.5 M277.0,95.0 L292.0,92.5 M197.0,110.0 L204.5,107.5 L207.0,117.5 M254.5,150.0 L267.0,145.0 M244.5,160.0 L254.5,150.0 L249.5,140.0 L242.0,130.0 M297.0,165.0 L292.0,175.0 M302.0,142.5 L304.5,165.0 M384.0,15.0 L391.5,20.0 L394.0,32.5 L409.0,40.0 L426.5,36.2 L446.5,40.0 L449.0,30.0 L444.0,15.0 L446.5,0.0 M409.0,40.0 L406.5,50.0 L411.5,62.5 L415.2,80.0 L414.0,100.0 L412.8,112.5 L404.0,120.0 L396.5,125.0 L391.5,130.0 L384.0,127.5 M384.0,57.5 L396.5,51.2 L406.5,50.0 M446.5,40.0 L451.5,55.0 L459.0,65.0 L455.2,75.0 L459.0,90.0 L467.8,93.8 L466.5,107.5 L464.0,115.5 M467.8,93.8 L479.0,96.2 L486.5,90.0 L496.5,96.2 L506.5,93.8 L516.5,100.0 L531.5,102.5 L541.5,110.0 L546.5,115.0 L556.5,107.5 L576.0,105.0 M446.5,40.0 L466.5,35.0 L484.0,38.8 L500.2,37.5 L516.5,32.5 L514.0,28.8 M500.2,37.5 L504.0,55.0 L509.0,72.5 L506.5,93.8 M524.0,75.0 L531.5,62.5 L544.0,56.2 L554.0,47.5 L546.5,40.0 L549.0,28.8 M524.0,75.0 L522.8,87.5 L531.5,102.5 M554.0,47.5 L564.0,52.5 L569.0,62.5 L576.0,70.0 M412.8,112.5 L426.5,110.0 L441.5,112.5 L450.2,123.8 M446.5,140.0 L456.5,145.0 L457.8,163.8 M472.8,131.2 L479.0,130.0 L489.0,136.2 L496.5,135.0 L502.8,140.0 M516.5,141.2 L514.0,132.5 L531.5,125.0 L546.5,115.0 M534.0,170.0 L544.0,162.5 L551.5,147.5 L546.5,135.0 L534.0,127.5 M566.5,110.0 L569.0,130.0 L564.0,150.0 L564.0,170.0 L569.0,192.0 M384.0,67.5 L386.5,65.0 L387.8,68.8 L385.2,71.2 M576.0,160.0 L591.0,161.2 L603.5,166.2 L613.5,155.0 L631.0,150.0 L651.0,147.5 M651.0,147.5 L652.2,160.0 L649.8,175.0 L651.0,185.0 M588.5,0.0 L587.2,6.2 M116.2,192.0 L115.0,202.0 L111.2,207.0 L117.5,219.5 L122.5,230.8 L135.0,234.5 L150.0,240.8 L153.8,238.2 L150.0,214.5 L140.0,209.5 L130.0,202.0 L116.2,202.0 M122.5,230.8 L113.8,244.5 L120.0,257.0 L125.0,269.5 L135.0,277.0 L147.5,279.5 M150.0,240.8 L157.5,252.0 L165.0,264.5 M150.0,214.5 L157.5,207.0 L153.8,197.0 L150.0,192.0 M86.2,219.5 L100.0,224.5 L112.5,232.0 L113.8,244.5 M90.0,199.5 L96.2,194.5 L95.0,192.0 M136.2,339.5 L140.0,342.0 L138.8,344.5 M239.5,204.5 L242.0,217.0 L252.0,224.5 L259.5,237.0 L265.8,252.0 L263.2,259.5 L269.5,264.5 L275.8,262.0 L279.5,269.5 L287.0,278.2 L299.5,279.5 M263.2,259.5 L257.0,272.0 L247.0,279.5 L253.2,283.2 M199.5,289.5 L212.0,287.0 L224.5,285.8 L239.5,288.2 L248.2,279.5 M204.5,304.5 L202.0,292.0 M213.2,334.5 L224.5,339.5 L234.5,338.2 L242.0,347.0 L249.5,352.0 L262.0,344.5 L272.0,338.2 L279.5,342.0 L287.0,349.5 L297.0,354.5 L309.5,355.8 L317.0,359.5 M192.0,219.5 L195.8,214.5 L194.5,207.0 L192.0,202.0 M554.0,309.5 L556.5,299.5 L576.0,292.0 M571.5,308.2 L576.0,299.5 M564.0,339.5 L576.0,332.0 M569.0,354.5 L576.0,352.0 M571.5,364.5 L569.0,374.5 L576.0,382.0 M613.5,247.0 L604.8,258.2 L607.2,267.0 L606.0,282.0 L593.5,292.0 L576.0,292.0 M651.0,240.8 L647.2,252.0 L649.8,264.5 L656.0,274.5 L661.0,285.8 L676.0,294.5 L682.2,294.5 M682.2,294.5 L688.5,304.5 L701.0,309.5 L718.5,310.8 L723.5,299.5 L731.0,282.0 L746.0,283.2 L754.8,279.5 L748.5,267.0 L751.0,252.0 L756.0,237.0 L761.0,229.5 L768.0,227.0 M701.0,309.5 L698.5,324.5 L691.0,334.5 L683.5,338.2 L682.2,344.5 M746.0,283.2 L748.5,294.5 L758.5,302.0 L768.0,305.8 M576.0,327.0 L586.0,322.0 L596.0,319.5 L603.5,324.5 L607.2,339.5 L609.8,352.0 L601.0,362.0 L596.0,372.0 L591.0,384.0 M603.5,324.5 L616.0,327.0 L629.8,329.5 L634.8,337.0 L641.0,339.5 L648.5,349.5 L651.0,354.5 M214.8,345.0 L218.5,355.0 L226.0,367.5 L232.2,370.0 L226.0,377.5 L241.0,383.8 L248.5,378.8 L256.0,377.5 M248.5,378.8 L253.5,392.5 L248.5,405.0 M281.0,426.2 L276.0,440.0 L271.0,447.5 L268.5,455.0 L256.0,455.0 L246.0,452.5 L242.2,462.5 L243.5,475.0 L253.5,480.0 L246.0,487.5 L236.0,490.0 M591.2,377.5 L597.5,390.0 L615.0,393.8 L625.0,403.8 L630.0,405.0 M628.8,410.0 L640.0,406.2 L650.0,413.8 L672.0,416.2 M593.8,447.5 L605.0,445.0 L615.0,440.0 L635.0,438.8 L655.0,435.0 L672.0,431.2 M602.5,487.5 L607.5,477.5 L620.0,475.0 L635.0,480.0 L650.0,477.5 L660.0,473.8 L672.0,476.2 M695.0,330.0 L683.8,337.5 L682.5,343.8 L697.5,352.5 L702.5,365.0 L707.5,377.5 L720.0,378.8 L735.0,376.2 L742.5,367.5 L752.5,367.5 L760.0,371.2 L762.5,380.0 M650.0,352.5 L662.5,347.5 L677.5,343.8 L682.5,343.8 M707.5,377.5 L696.2,390.0 L698.8,402.5 L696.2,415.0 L691.2,426.2 L688.8,431.2 M696.2,415.0 L702.5,418.8 L720.0,420.0 L732.5,415.0 L743.8,412.5 L745.0,405.0 L755.0,402.5 L762.5,410.0 L768.0,416.2 M755.0,402.5 L757.5,392.5 M672.0,416.2 L675.0,430.0 L688.8,431.2 M688.8,431.2 L691.2,440.0 L692.5,455.0 L697.5,460.0 L690.0,468.8 L677.5,472.5 L680.0,485.0 M768.0,430.0 L757.5,435.0 L747.5,442.5 L748.8,452.5 L757.5,457.5 L768.0,457.5 M757.5,457.5 L747.5,465.0 L740.0,475.0 L740.0,485.0 M686.0,490.0 L693.5,502.5 L706.0,512.5 L712.2,522.5 L723.5,527.5 L726.0,517.5 L736.0,505.0 L733.5,490.0 M734.8,560.0 L741.0,547.5 L746.0,532.5 L756.0,517.5 L763.5,505.0 L768.0,502.5 M711.0,567.5 L721.0,565.0 L734.8,560.0" stroke-width="1.2" stroke-opacity="0.55"/>
<path d="M416.5,299.5 L417.8,327.0 L392.8,355.8 M417.8,327.0 L436.5,342.0 M465.2,251.5 L479.0,254.5 M455.2,370.8 L456.5,384.0 M191.0,451.2 L198.5,462.5 M167.2,361.2 L173.5,365.0 L178.5,370.0 M173.5,375.0 L183.5,385.0 L191.0,390.0 L189.8,402.5 M455.5,383.8 L451.8,395.0 M424.2,440.0 L426.8,432.5 L431.8,428.8 M391.8,477.5 L394.2,465.0 L399.2,456.2 M288.0,355.0 L303.0,360.0 L315.5,365.0 M338.0,418.8 L345.5,425.0 L355.5,428.8 L360.5,415.0 L370.5,412.5 M325.5,435.0 L330.5,447.5 M330.5,472.5 L335.5,480.0 L350.5,482.5 M506.2,447.0 L522.5,445.0 M562.5,341.2 L580.0,330.0 M312.0,562.5 L324.5,567.5 L332.0,571.2 L337.0,570.0 M342.0,628.8 L354.5,612.5 M546.5,643.8 L552.8,672.5 M546.1,644.4 L551.8,670.6" stroke-width="1" stroke-opacity="0.3"/>
</g>
<g fill="none" stroke="#000" stroke-width="1" shape-rendering="crispEdges">
<path d="M0.0,145.0 C3.8,146.7 15.4,152.1 22.5,155.0 C29.6,157.9 37.1,159.6 42.5,162.5 C47.9,165.4 52.1,170.1 55.0,172.5 C57.9,174.9 57.7,174.0 60.0,177.2 C62.3,180.4 66.1,187.5 68.6,191.6 C71.1,195.7 72.7,198.2 75.0,202.0 C77.3,205.8 80.4,209.9 82.5,214.5 C84.6,219.1 86.3,223.7 87.5,229.5 C88.7,235.3 88.9,243.2 89.5,249.5 C90.1,255.8 89.9,261.2 91.2,267.0 C92.6,272.8 94.8,278.7 97.5,284.5 C100.2,290.3 104.2,297.0 107.5,302.0 C110.8,307.0 115.0,310.3 117.5,314.5 C120.0,318.7 120.0,323.2 122.5,327.0 C125.0,330.8 129.2,334.1 132.5,337.0 C135.8,339.9 138.3,342.4 142.5,344.5 C146.7,346.6 152.1,348.9 157.5,349.5 C162.9,350.1 169.2,348.5 175.0,348.2 C180.8,348.0 187.5,348.2 192.0,348.0 C196.5,347.8 198.9,347.8 202.0,347.0 C205.1,346.2 208.9,345.3 210.8,343.2 C212.6,341.2 213.5,338.5 213.2,334.5 C213.0,330.5 211.0,324.5 209.5,319.5 C208.0,314.5 206.2,309.5 204.5,304.5 C202.8,299.5 201.0,294.9 199.5,289.5 C198.0,284.1 197.0,276.6 195.8,272.0 C194.5,267.4 193.4,265.9 192.0,262.0 C190.6,258.1 187.7,253.4 187.5,248.9 C187.3,244.4 189.6,239.5 191.0,235.0 C192.4,230.5 194.3,226.7 195.8,222.0 C197.2,217.3 197.8,212.0 199.5,207.0 C201.2,202.0 204.2,195.5 205.8,192.0 C207.3,188.5 207.3,187.2 209.0,185.8 C210.7,184.4 213.8,184.5 215.8,183.8 C217.7,183.0 218.5,183.1 220.8,181.2 C223.0,179.4 227.4,176.0 229.5,172.5 C231.6,169.0 232.2,165.0 233.2,160.0 C234.3,155.0 234.9,147.7 235.8,142.5 C236.6,137.3 236.8,132.5 238.2,128.8 C239.7,125.0 241.8,122.2 244.5,120.0 C247.2,117.8 251.2,116.4 254.5,115.8 C257.8,115.1 260.8,116.0 264.5,116.2 C268.2,116.5 272.8,116.0 277.0,117.5 C281.2,119.0 285.8,122.5 289.5,125.0 C293.2,127.5 296.2,130.8 299.5,132.5 C302.8,134.2 306.2,135.4 309.5,135.0 C312.8,134.6 317.8,131.9 319.5,130.0 C321.2,128.1 321.2,126.0 319.5,123.8 C317.8,121.5 312.8,118.8 309.5,116.2 C306.2,113.8 301.2,110.8 299.5,108.8 C297.8,106.7 297.8,105.8 299.5,103.8 C301.2,101.7 306.2,98.5 309.5,96.2 C312.8,94.0 317.0,92.7 319.5,90.0 C322.0,87.3 323.2,84.6 324.5,80.0 C325.8,75.4 326.2,68.3 327.0,62.5 C327.8,56.7 328.9,51.7 329.5,45.0 C330.1,38.3 331.2,28.3 330.8,22.5 C330.3,16.7 329.1,13.8 327.0,10.0 C324.9,6.2 319.7,1.7 318.2,0.0"/>
<path d="M768.0,214.0 C767.7,214.2 768.0,214.3 766.0,215.0 C764.0,215.7 759.3,216.9 756.0,218.2 C752.7,219.6 748.9,221.4 746.0,223.2 C743.1,225.1 740.2,227.2 738.5,229.5 C736.8,231.8 736.0,232.8 735.5,237.0 C735.0,241.2 736.8,250.5 735.2,254.5 C733.7,258.5 729.6,258.7 726.0,260.8 C722.4,262.8 717.7,264.5 713.5,267.0 C709.3,269.5 705.0,272.6 701.0,275.8 C697.0,278.9 692.9,282.6 689.8,285.8 C686.6,288.9 683.9,291.8 682.2,294.5 C680.6,297.2 680.8,299.1 679.8,302.0 C678.7,304.9 677.9,308.2 676.0,312.0 C674.1,315.8 670.3,321.5 668.5,324.5 C666.7,327.5 666.4,327.2 665.0,330.0 C663.6,332.8 662.1,337.5 660.0,341.2 C657.9,345.0 654.6,349.2 652.5,352.5 C650.4,355.8 648.4,357.3 647.5,361.2 C646.6,365.2 648.2,372.3 647.0,376.2 C645.8,380.2 642.4,381.9 640.0,385.0 C637.6,388.1 634.2,391.7 632.5,395.0 C630.8,398.3 631.0,401.2 630.0,405.0 C629.0,408.8 628.3,413.8 626.2,417.5 C624.2,421.2 620.2,424.4 617.5,427.5 C614.8,430.6 612.1,432.9 610.0,436.2 C607.9,439.6 606.7,443.5 605.0,447.5 C603.3,451.5 602.5,457.3 600.0,460.0 C597.5,462.7 593.5,462.5 590.0,463.8 C586.5,465.0 581.7,465.6 578.8,467.5 C575.8,469.4 574.6,472.5 572.5,475.0 C570.4,477.5 567.6,480.0 566.2,482.5 C564.9,485.0 565.0,487.5 564.5,490.0 C564.0,492.5 564.4,494.8 563.5,497.5 C562.6,500.2 561.8,503.3 559.0,506.2 C556.2,509.2 551.1,512.5 546.5,515.0 C541.9,517.5 536.9,518.8 531.5,521.2 C526.1,523.8 519.8,527.1 514.0,530.0 C508.2,532.9 501.5,535.8 496.5,538.8 C491.5,541.7 488.2,544.4 484.0,547.5 C479.8,550.6 476.1,554.2 471.5,557.5 C466.9,560.8 461.9,564.2 456.5,567.5 C451.1,570.8 444.8,574.4 439.0,577.5 C433.2,580.6 426.9,583.3 421.5,586.2 C416.1,589.2 411.5,592.5 406.5,595.0 C401.5,597.5 396.2,598.8 391.5,601.2 C386.8,603.7 382.3,607.4 378.2,609.5 C374.2,611.6 371.4,611.8 367.0,613.8 C362.6,615.7 357.4,618.5 352.0,621.2 C346.6,624.0 340.3,627.7 334.5,630.0 C328.7,632.3 322.4,632.9 317.0,635.0 C311.6,637.1 307.0,640.0 302.0,642.5 C297.0,645.0 292.4,647.9 287.0,650.0 C281.6,652.1 274.9,653.8 269.5,655.0 C264.1,656.2 259.5,657.0 254.5,657.0 C249.5,657.0 244.9,655.5 239.5,655.0 C234.1,654.5 227.4,654.6 222.0,653.8 C216.6,652.9 212.0,651.0 207.0,650.0 C202.0,649.0 198.2,649.2 192.0,647.5 C185.8,645.8 177.0,643.8 170.0,640.0 C163.0,636.2 156.2,630.2 150.0,625.0 C143.8,619.8 137.5,612.5 133.0,608.7 C128.5,604.9 129.1,604.5 123.0,602.0 C117.0,599.5 104.4,595.8 96.7,594.0 C89.0,592.2 82.0,592.5 76.7,591.0 C71.4,589.5 72.8,586.0 65.0,585.0 C57.2,584.0 37.5,584.5 30.0,585.0 C22.5,585.5 25.0,587.5 20.0,588.0 C15.0,588.5 3.3,588.0 0.0,588.0"/>
<path d="M704.0,499.5 C706.0,498.5 710.8,495.8 716.0,493.8 C721.2,491.8 729.3,489.0 735.0,487.5 C740.7,486.0 746.2,484.8 750.0,485.0 C753.8,485.2 754.5,487.5 757.5,488.8 C760.5,490.0 766.2,491.9 768.0,492.5"/>
<path d="M768.0,543.0 C766.8,542.8 763.4,542.7 761.0,542.0 C758.6,541.3 756.0,541.0 753.5,538.8 C751.0,536.5 748.9,531.9 746.0,528.8 C743.1,525.6 739.3,522.9 736.0,520.0 C732.7,517.1 729.3,513.8 726.0,511.2 C722.7,508.8 719.7,507.0 716.0,505.0 C712.3,503.0 706.0,500.4 704.0,499.5"/>
<path d="M500.0,728.0 C502.0,727.3 506.7,725.2 512.0,723.7 C517.3,722.2 524.8,720.7 532.0,718.7 C539.2,716.8 547.5,714.2 555.3,712.0 C563.1,709.8 570.9,708.1 578.7,705.3 C586.5,702.5 595.3,698.6 602.0,695.3 C608.7,692.0 614.5,687.5 618.7,685.3 C622.9,683.1 625.0,684.5 627.2,682.0 C629.5,679.5 630.9,673.3 632.2,670.0 C633.6,666.7 633.2,664.9 635.5,662.0 C637.8,659.1 642.6,655.8 646.0,652.5 C649.4,649.2 653.1,646.2 656.0,642.5 C658.9,638.8 661.0,634.2 663.5,630.0 C666.0,625.8 668.5,621.2 671.0,617.5 C673.5,613.8 675.8,610.8 678.5,607.5 C681.2,604.2 685.2,600.8 687.2,597.5 C689.3,594.2 689.8,590.8 691.0,587.5 C692.2,584.2 693.1,580.8 694.8,577.5 C696.4,574.2 698.7,570.0 701.0,567.5 C703.3,565.0 705.6,563.8 708.5,562.5 C711.4,561.2 714.1,560.5 718.5,560.0 C722.9,559.5 731.8,558.7 734.8,559.5 C737.7,560.3 735.2,563.2 736.0,565.0 C736.8,566.8 737.7,568.5 739.8,570.0 C741.8,571.5 745.4,573.0 748.5,573.8 C751.6,574.5 755.2,574.4 758.5,574.5 C761.8,574.6 766.4,574.3 768.0,574.2"/>
<path d="M108.0,0.0 C109.5,1.9 113.9,7.0 116.7,11.5 C119.5,16.0 122.3,22.3 125.0,27.0 C127.7,31.7 128.3,35.4 133.0,39.6 C137.7,43.8 149.2,48.5 153.0,52.0 C156.8,55.5 156.0,55.9 156.0,60.4 C156.0,64.9 153.8,72.4 153.0,79.0 C152.2,85.6 151.5,93.7 151.0,100.0 C150.5,106.3 150.9,111.2 150.0,116.7 C149.1,122.2 146.8,129.3 145.8,133.0 C144.8,136.7 146.9,137.7 143.8,139.0 C140.7,140.3 131.5,141.6 127.0,141.0 C122.5,140.4 120.5,137.7 116.7,135.4 C112.9,133.1 108.9,130.1 104.0,127.0 C99.1,123.9 92.0,119.6 87.5,116.7 C83.0,113.8 80.5,111.5 77.0,109.4 C73.5,107.3 72.6,107.3 66.7,104.0 C60.8,100.7 49.4,94.1 41.7,89.6 C34.1,85.1 27.8,81.2 20.8,77.0 C13.9,72.8 3.5,66.7 0.0,64.6"/>
<path d="M41.7,0.0 C41.4,1.4 37.9,5.2 39.6,8.3 C41.3,11.4 46.8,15.0 52.0,18.8 C57.2,22.6 65.8,26.8 70.8,31.3 C75.8,35.8 80.2,41.6 82.3,45.8 C84.4,50.0 83.8,53.2 83.3,56.3 C82.8,59.4 82.3,62.8 79.2,64.6 C76.1,66.4 69.0,67.5 64.6,67.0 C60.2,66.5 56.3,64.2 53.0,61.5 C49.7,58.8 48.5,55.4 44.8,51.0 C41.1,46.6 35.9,39.6 31.0,35.4 C26.1,31.2 20.8,28.9 15.6,26.0 C10.4,23.1 2.6,19.1 0.0,17.7"/>
<path d="M0.0,94.5 C4.2,96.7 16.7,103.2 25.0,107.5 C33.3,111.8 42.7,116.5 50.0,120.0 C57.3,123.5 63.3,125.0 68.8,128.8 C74.2,132.5 78.5,137.5 82.5,142.5 C86.5,147.5 88.8,153.5 92.5,158.8 C96.2,164.0 100.4,169.0 105.0,173.8 C109.6,178.5 114.2,184.0 120.0,187.5 C125.8,191.0 133.8,194.1 140.0,194.5 C146.2,194.9 152.1,193.2 157.5,190.0 C162.9,186.8 168.3,181.2 172.5,175.0 C176.7,168.8 180.4,160.0 182.5,152.5 C184.6,145.0 185.4,137.5 185.0,130.0 C184.6,122.5 180.2,112.9 180.0,107.5 C179.8,102.1 181.8,100.5 183.8,97.5 C185.8,94.5 189.4,91.2 192.0,89.5 C194.6,87.8 197.0,88.7 199.5,87.5 C202.0,86.3 205.1,85.8 207.0,82.5 C208.9,79.2 210.3,72.1 210.8,67.5 C211.2,62.9 210.5,59.6 209.5,55.0 C208.5,50.4 206.0,45.0 204.5,40.0 C203.0,35.0 202.0,29.6 200.8,25.0 C199.5,20.4 198.5,15.2 197.0,12.5 C195.5,9.8 194.8,9.2 192.0,8.8 C189.2,8.3 183.7,10.2 180.0,10.0 C176.3,9.8 173.3,9.2 170.0,7.5 C166.7,5.8 161.7,1.2 160.0,0.0"/>
<path d="M768.0,363.0 C767.5,363.1 765.7,360.9 765.0,363.8 C764.3,366.6 764.6,375.8 763.8,380.0 C762.9,384.2 762.3,386.7 760.0,388.8 C757.7,390.8 753.3,392.1 750.0,392.5 C746.7,392.9 742.7,391.8 740.0,391.2 C737.3,390.7 737.1,390.1 733.8,389.2 C730.4,388.4 723.5,385.7 720.0,386.2 C716.5,386.8 714.0,389.4 712.5,392.5 C711.0,395.6 711.0,400.0 710.8,405.0 C710.5,410.0 711.8,416.2 711.2,422.5 C710.7,428.8 708.5,436.2 707.5,442.5 C706.5,448.8 704.2,456.9 705.5,460.0 C706.8,463.1 711.3,461.0 715.0,461.2 C718.7,461.5 723.3,461.7 727.5,461.2 C731.7,460.8 736.2,459.8 740.0,458.8 C743.8,457.7 745.3,455.8 750.0,455.0 C754.7,454.2 765.0,454.0 768.0,453.8"/>
<path d="M333.0,728.0 C337.1,725.9 349.7,719.5 357.5,715.6 C365.3,711.7 375.0,708.8 380.0,704.4 C385.0,700.0 385.9,694.4 387.5,689.4 C389.1,684.4 387.9,678.5 389.4,674.4 C390.9,670.3 393.2,667.8 396.5,665.0 C399.8,662.2 404.0,659.9 409.0,657.5 C414.0,655.1 421.5,652.6 426.5,650.8 C431.5,648.9 434.0,647.6 439.0,646.2 C444.0,644.9 449.8,643.5 456.5,642.5 C463.2,641.5 472.3,641.0 479.0,640.0 C485.7,639.0 490.2,637.9 496.5,636.2 C502.8,634.6 510.2,632.3 516.5,630.0 C522.8,627.7 528.6,625.0 534.0,622.5 C539.4,620.0 544.0,617.7 549.0,615.0 C554.0,612.3 559.5,609.5 564.0,606.2 C568.5,603.0 572.3,598.6 576.0,595.5 C579.7,592.4 582.7,590.7 586.0,587.5 C589.3,584.3 592.7,580.4 596.0,576.2 C599.3,572.1 603.3,567.3 606.0,562.5 C608.7,557.7 610.7,552.5 612.2,547.5 C613.8,542.5 614.7,537.5 615.5,532.5 C616.3,527.5 616.1,522.1 617.2,517.5 C618.4,512.9 620.5,507.9 622.2,505.0 C624.0,502.1 624.8,502.7 627.5,500.0 C630.2,497.3 634.2,491.0 638.8,488.8 C643.3,486.5 650.2,485.6 655.0,486.2 C659.8,486.9 663.8,489.8 667.5,492.5 C671.2,495.2 673.8,500.0 677.5,502.5 C681.2,505.0 685.7,505.8 690.0,507.5 C694.3,509.2 699.2,510.2 703.5,512.5 C707.8,514.8 712.2,518.3 716.0,521.2 C719.8,524.2 723.1,526.9 726.0,530.0 C728.9,533.1 731.0,536.9 733.5,540.0 C736.0,543.1 738.1,546.3 741.0,548.8 C743.9,551.2 746.5,553.4 751.0,554.5 C755.5,555.6 765.2,555.3 768.0,555.5"/>
<path d="M0.0,286.0 C2.2,287.7 10.0,291.6 13.0,296.0 C16.0,300.4 17.0,308.0 18.0,312.7 C19.0,317.4 19.0,319.6 19.0,324.0 C19.0,328.4 19.5,333.7 18.0,339.0 C16.5,344.3 13.0,350.7 10.0,356.0 C7.0,361.3 1.7,368.5 0.0,371.0"/>
<path d="M346.0,0.0 C347.7,2.8 352.5,10.0 356.0,16.7 C359.5,23.4 365.9,31.7 367.0,40.0 C368.1,48.3 364.9,56.2 362.7,66.7 C360.5,77.2 352.3,94.1 354.0,103.0 C355.7,111.9 366.9,115.0 372.7,120.0 C378.5,125.0 384.0,129.7 389.0,133.0 C394.0,136.3 397.7,138.3 402.7,140.0 C407.7,141.7 414.8,141.1 419.0,143.0 C423.2,144.9 426.9,147.8 427.7,151.7 C428.5,155.6 426.5,162.8 424.0,166.7 C421.5,170.6 417.4,172.5 412.7,175.0 C408.0,177.5 402.7,179.5 396.0,181.7 C389.3,183.9 379.9,186.9 372.7,188.0 C365.5,189.1 361.6,187.7 352.7,188.0 C343.8,188.3 328.4,187.7 319.0,190.0 C309.6,192.3 303.2,196.7 296.0,201.7 C288.8,206.7 281.6,213.6 276.0,220.0 C270.4,226.4 265.5,234.0 262.7,240.0 C259.9,246.0 259.9,250.2 259.0,256.0 C258.1,261.8 257.5,270.8 257.0,275.0 C256.5,279.2 258.8,278.7 256.0,281.0 C253.2,283.3 243.5,285.4 240.0,289.0 C236.5,292.6 235.0,296.0 235.0,302.7 C235.0,309.4 237.8,320.7 240.0,329.0 C242.2,337.3 246.2,344.4 248.0,352.7 C249.8,361.0 250.6,371.1 250.7,379.0 C250.8,386.9 248.1,394.8 248.3,400.0 C248.5,405.2 250.5,406.6 252.0,410.4 C253.5,414.2 256.0,417.8 257.3,423.0 C258.6,428.2 259.6,435.5 260.0,441.7 C260.4,447.9 260.2,455.7 259.4,460.4 C258.6,465.1 257.5,467.2 255.2,469.8 C252.9,472.4 249.3,473.2 245.8,476.0 C242.3,478.8 238.0,483.5 234.4,486.5 C230.8,489.5 226.5,491.3 224.0,493.8 C221.5,496.2 220.0,496.8 219.4,501.0 C218.8,505.2 219.1,514.8 220.2,518.8 C221.3,522.7 223.6,523.5 226.0,524.6 C228.4,525.7 232.2,525.1 234.4,525.6 C236.6,526.1 238.2,528.5 239.2,527.5 C240.2,526.5 239.7,522.6 240.6,519.8 C241.5,516.9 242.7,513.4 244.8,510.4 C246.9,507.4 250.1,504.2 253.0,502.0 C255.9,499.8 259.7,498.0 262.5,496.9 C265.3,495.8 267.6,495.0 269.8,495.2 C272.1,495.4 273.8,496.2 276.0,498.0 C278.2,499.8 280.3,503.8 283.3,506.2 C286.3,508.7 290.3,510.6 293.8,512.5 C297.2,514.4 301.8,515.6 304.2,517.7 C306.6,519.8 306.8,522.6 308.3,525.0 C309.9,527.4 311.4,530.6 313.5,532.3 C315.6,534.0 318.2,535.0 320.8,535.0 C323.4,535.0 326.4,533.6 329.2,532.3 C332.0,531.0 335.1,529.3 337.5,527.0 C339.9,524.7 342.2,521.9 343.8,518.8 C345.3,515.6 345.7,511.4 346.9,508.3 C348.1,505.2 347.8,503.2 351.0,500.0 C354.2,496.8 360.2,492.7 366.0,489.0 C371.8,485.3 381.6,482.1 386.0,477.7 C390.4,473.3 389.9,466.6 392.7,462.7 C395.5,458.8 397.7,456.5 402.7,454.0 C407.7,451.5 417.1,450.2 422.7,447.7 C428.2,445.2 431.6,443.2 436.0,439.0 C440.4,434.8 445.2,428.8 449.0,422.7 C452.8,416.6 455.1,408.5 459.0,402.7 C462.9,396.9 468.2,392.1 472.7,387.7 C477.2,383.2 482.7,380.8 486.0,376.0 C489.3,371.2 489.9,364.0 492.7,359.0 C495.5,354.0 499.5,349.0 502.7,346.0 C505.9,343.0 509.9,342.8 512.0,341.0 C514.0,339.2 515.0,338.9 515.0,335.0 C515.0,331.1 513.8,322.0 512.0,317.7 C510.2,313.4 506.2,312.6 504.0,309.0 C501.8,305.4 499.2,299.8 499.0,296.0 C498.8,292.2 500.5,290.5 502.7,286.0 C504.9,281.5 507.1,274.0 512.0,269.0 C516.9,264.0 524.8,260.6 532.0,256.0 C539.2,251.4 547.8,244.4 555.0,241.7 C562.2,239.0 569.4,243.1 575.0,240.0 C580.6,236.9 583.1,227.5 588.7,223.0 C594.3,218.5 602.0,216.8 608.7,213.0 C615.4,209.2 621.5,204.7 628.7,200.0 C635.9,195.3 645.3,188.1 652.0,185.0 C658.7,181.9 663.2,183.9 668.7,181.7 C674.2,179.5 680.8,174.8 685.0,171.7 C689.2,168.6 691.5,168.3 693.7,163.0 C695.9,157.7 698.0,147.2 698.0,140.0 C698.0,132.8 695.9,126.7 693.7,120.0 C691.5,113.3 688.6,105.3 685.0,100.0 C681.4,94.7 677.0,93.5 672.0,88.0 C667.0,82.5 660.5,71.4 655.0,66.7 C649.5,62.0 643.1,64.0 638.7,60.0 C634.3,56.0 632.7,47.0 628.7,43.0 C624.8,39.0 621.1,37.3 615.0,36.0 C608.9,34.7 598.0,36.2 592.0,35.0 C586.0,33.8 587.4,31.5 578.7,29.0 C570.0,26.5 556.0,23.4 540.0,20.0 C524.0,16.6 494.5,10.5 482.7,8.3 C470.9,6.1 475.7,7.2 469.0,6.7 C462.3,6.2 449.9,6.1 442.7,5.0 C435.5,3.9 428.8,0.8 426.0,0.0"/>
</g>
<g fill="none" stroke="#000" stroke-width="2.2" stroke-linejoin="round">
<path d="M0.0,40.6 C2.1,42.0 8.0,45.7 12.5,49.0 C17.0,52.3 22.1,56.8 27.0,60.4 C31.9,64.0 36.5,67.4 41.7,70.8 C46.9,74.2 54.2,79.0 58.0,81.0 C61.8,83.0 61.1,82.3 64.6,83.0 C68.1,83.7 74.5,83.6 79.0,85.4 C83.5,87.2 86.5,91.0 91.7,93.8 C96.9,96.5 104.8,101.7 110.0,102.0 C115.2,102.3 120.2,99.0 123.0,95.8 C125.8,92.6 127.0,88.2 127.0,83.0 C127.0,77.8 124.7,69.1 123.0,64.6 C121.3,60.1 119.9,61.6 116.7,56.0 C113.5,50.4 107.5,37.2 104.0,31.0 C100.5,24.8 99.3,22.5 95.8,18.8 C92.3,15.0 87.2,11.3 83.0,8.3 C78.8,5.3 72.8,2.2 70.8,1.0"/>
<path d="M449.7,124.7 C450.2,123.5 451.4,122.1 452.9,120.8 C454.4,119.5 456.9,117.8 458.8,116.9 C460.8,116.0 463.0,115.3 464.6,115.6 C466.2,115.9 467.3,118.0 468.6,118.9 C469.9,119.8 471.5,119.7 472.5,120.8 C473.5,121.9 474.0,123.8 474.4,125.4 C474.8,127.0 475.5,129.2 475.0,130.6 C474.5,132.0 472.7,133.2 471.2,133.9 C469.7,134.6 467.5,135.1 466.0,134.9 C464.5,134.7 464.3,133.1 462.0,132.6 C459.7,132.1 454.1,132.8 452.0,132.0 C449.9,131.2 450.1,129.2 449.7,128.0 C449.3,126.8 449.2,125.9 449.7,124.7Z"/>
<path d="M486.8,144.9 C487.8,144.3 489.8,144.2 492.0,143.6 C494.2,142.9 497.2,141.8 499.8,141.0 C502.4,140.2 505.2,139.1 507.6,139.0 C510.0,138.9 512.4,139.5 514.1,140.4 C515.8,141.3 516.9,142.8 518.0,144.3 C519.1,145.8 520.4,147.9 520.6,149.5 C520.8,151.1 520.2,152.7 519.3,154.0 C518.4,155.3 516.9,156.5 515.4,157.3 C513.9,158.1 511.7,158.8 510.2,158.6 C508.7,158.4 507.4,156.9 506.3,156.0 C505.2,155.1 505.9,153.8 503.7,153.4 C501.5,153.0 496.2,154.5 493.3,153.4 C490.4,152.3 487.2,148.3 486.1,146.9 C485.0,145.5 485.8,145.5 486.8,144.9Z"/>
</g>
<g font-family="Liberation Sans, sans-serif" font-weight="bold" font-size="10.5" text-anchor="middle" fill="#fff" stroke="#000" stroke-width="2.2" stroke-linejoin="round" paint-order="stroke">
<text x="41.0" y="51.3">14</text>
<text x="64.5" y="86.8">15</text>
<text x="72.9" y="109.0">16</text>
<text x="68.3" y="133.0">17</text>
<text x="209.4" y="189.8">18</text>
<text x="19.3" y="327.8">19</text>
<text x="458.4" y="132.7">20</text>
<text x="497.5" y="153.9">20</text>
<text x="514.0" y="271.8">19</text>
<text x="733.7" y="392.8">17</text>
<text x="729.3" y="516.5">18</text>
<text x="384.3" y="609.1">18</text>
<text x="426.0" y="654.8">17</text>
<text x="635.3" y="665.8">16</text>
</g>
<!-- title -->
<g font-weight="bold" fill="#00FFFF" stroke="#0018FF" stroke-width="2.4" stroke-linejoin="round" paint-order="stroke">
<text x="15.6" y="29.2" textLength="43.8" lengthAdjust="spacingAndGlyphs" font-size="16">Lundi</text>
<text x="63.7" y="29.2" textLength="15.7" lengthAdjust="spacingAndGlyphs" font-size="16">27</text>
<text x="86.3" y="29.2" textLength="57.5" lengthAdjust="spacingAndGlyphs" font-size="16">octobre</text>
<text x="147.9" y="29.2" textLength="35.7" lengthAdjust="spacingAndGlyphs" font-size="16">2025</text>
<text x="15.4" y="54.2" textLength="57.6" lengthAdjust="spacingAndGlyphs" font-size="22.8">14:00</text>
<text x="82.6" y="54.2" textLength="67.2" lengthAdjust="spacingAndGlyphs" font-size="22.8">locale</text>
</g>
<!-- run box -->
<rect x="434" y="10" width="334" height="19" fill="#000" shape-rendering="crispEdges"/>
<g font-size="11" font-weight="bold" fill="#fff">
<text x="443.3" y="23" textLength="21.1" lengthAdjust="spacingAndGlyphs" >Run</text>
<text x="467.8" y="23" textLength="39.9" lengthAdjust="spacingAndGlyphs" >ECMWF</text>
<text x="510.8" y="23" textLength="34.4" lengthAdjust="spacingAndGlyphs" >AIFSv1</text>
<text x="549.6" y="23" textLength="25.8" lengthAdjust="spacingAndGlyphs" >0.25°</text>
<text x="577.6" y="23" textLength="6.5" lengthAdjust="spacingAndGlyphs" >6</text>
<text x="586.8" y="23" textLength="7.8" lengthAdjust="spacingAndGlyphs" >Z</text>
<text x="597.1" y="23" textLength="13.3" lengthAdjust="spacingAndGlyphs" >du</text>
<text x="613.8" y="23" textLength="47.6" lengthAdjust="spacingAndGlyphs" >Mercredi</text>
<text x="666.3" y="23" textLength="12.8" lengthAdjust="spacingAndGlyphs" >15</text>
<text x="681.6" y="23" textLength="43.0" lengthAdjust="spacingAndGlyphs" >octobre</text>
<text x="727.6" y="23" textLength="23.6" lengthAdjust="spacingAndGlyphs" >2025</text>
</g>
<!-- copyright -->
<g font-size="11" font-weight="bold" fill="#fff" stroke="#000" stroke-width="2" stroke-linejoin="round" paint-order="stroke">
<text x="95.8" y="711.8" textLength="53.0" lengthAdjust="spacingAndGlyphs" >Copyright</text>
<text x="153.1" y="711.8" textLength="8.2" lengthAdjust="spacingAndGlyphs" >©</text>
<text x="163.9" y="711.8" textLength="23.0" lengthAdjust="spacingAndGlyphs" >2025</text>
<text x="191.0" y="711.8" textLength="64.4" lengthAdjust="spacingAndGlyphs" >Meteociel.fr</text>
<text x="260.0" y="711.8" textLength="4.4" lengthAdjust="spacingAndGlyphs" >-</text>
<text x="268.1" y="711.8" textLength="37.3" lengthAdjust="spacingAndGlyphs" >Source</text>
<text x="308.5" y="711.8" textLength="53.4" lengthAdjust="spacingAndGlyphs" >European</text>
<text x="364.1" y="711.8" textLength="37.3" lengthAdjust="spacingAndGlyphs" >Centre</text>
<text x="404.8" y="711.8" textLength="14.4" lengthAdjust="spacingAndGlyphs" >for</text>
<text x="423.5" y="711.8" textLength="82.8" lengthAdjust="spacingAndGlyphs" >Medium-Range</text>
<text x="509.6" y="711.8" textLength="43.5" lengthAdjust="spacingAndGlyphs" >Weather</text>
<text x="557.5" y="711.8" textLength="55.0" lengthAdjust="spacingAndGlyphs" >Forecasts</text>
<text x="616.9" y="711.8" textLength="46.9" lengthAdjust="spacingAndGlyphs" >(ECMWF)</text>
</g>
<!-- legend -->
<rect x="0" y="728" width="768" height="40" fill="#fff"/>
<text x="20.5" y="746.5" font-size="16" fill="#000" stroke="#000" stroke-width="0.45" textLength="190.3" lengthAdjust="spacing">Température 850hPa (°C)</text>
<text x="20.5" y="761.5" font-size="12" font-weight="bold" fill="#000" textLength="48.3" lengthAdjust="spacing">(+ 294h)</text>
<g shape-rendering="crispEdges">
<rect x="225.5" y="748.5" width="15" height="15" fill="#DDDDDD" stroke="#000" stroke-width="1"/>
<rect x="240.5" y="748.5" width="15" height="15" fill="#B0B0B0" stroke="#000" stroke-width="1"/>
<rect x="255.5" y="748.5" width="15" height="15" fill="#996699" stroke="#000" stroke-width="1"/>
<rect x="270.5" y="748.5" width="15" height="15" fill="#664466" stroke="#000" stroke-width="1"/>
<rect x="285.5" y="748.5" width="15" height="15" fill="#4B004B" stroke="#000" stroke-width="1"/>
<rect x="300.5" y="748.5" width="15" height="15" fill="#660066" stroke="#000" stroke-width="1"/>
<rect x="315.5" y="748.5" width="15" height="15" fill="#AA00AA" stroke="#000" stroke-width="1"/>
<rect x="330.5" y="748.5" width="15" height="15" fill="#881188" stroke="#000" stroke-width="1"/>
<rect x="345.5" y="748.5" width="15" height="15" fill="#660044" stroke="#000" stroke-width="1"/>
<rect x="360.5" y="748.5" width="15" height="15" fill="#333366" stroke="#000" stroke-width="1"/>
<rect x="375.5" y="748.5" width="15" height="15" fill="#003399" stroke="#000" stroke-width="1"/>
<rect x="390.5" y="748.5" width="15" height="15" fill="#0000CC" stroke="#000" stroke-width="1"/>
<rect x="405.5" y="748.5" width="15" height="15" fill="#0000FF" stroke="#000" stroke-width="1"/>
<rect x="420.5" y="748.5" width="15" height="15" fill="#0055FF" stroke="#000" stroke-width="1"/>
<rect x="435.5" y="748.5" width="15" height="15" fill="#0099FF" stroke="#000" stroke-width="1"/>
<rect x="450.5" y="748.5" width="15" height="15" fill="#33CCFF" stroke="#000" stroke-width="1"/>
<rect x="465.5" y="748.5" width="15" height="15" fill="#66FFFF" stroke="#000" stroke-width="1"/>
<rect x="480.5" y="748.5" width="15" height="15" fill="#66FF99" stroke="#000" stroke-width="1"/>
<rect x="495.5" y="748.5" width="15" height="15" fill="#66FF66" stroke="#000" stroke-width="1"/>
<rect x="510.5" y="748.5" width="15" height="15" fill="#66FF00" stroke="#000" stroke-width="1"/>
<rect x="525.5" y="748.5" width="15" height="15" fill="#BBFF11" stroke="#000" stroke-width="1"/>
<rect x="540.5" y="748.5" width="15" height="15" fill="#FFFF00" stroke="#000" stroke-width="1"/>
<rect x="555.5" y="748.5" width="15" height="15" fill="#FFFF88" stroke="#000" stroke-width="1"/>
<rect x="570.5" y="748.5" width="15" height="15" fill="#FFE566" stroke="#000" stroke-width="1"/>
<rect x="585.5" y="748.5" width="15" height="15" fill="#FFCC00" stroke="#000" stroke-width="1"/>
<rect x="600.5" y="748.5" width="15" height="15" fill="#FF9900" stroke="#000" stroke-width="1"/>
<rect x="615.5" y="748.5" width="15" height="15" fill="#FF6600" stroke="#000" stroke-width="1"/>
<rect x="630.5" y="748.5" width="15" height="15" fill="#FF5040" stroke="#000" stroke-width="1"/>
<rect x="645.5" y="748.5" width="15" height="15" fill="#FF3300" stroke="#000" stroke-width="1"/>
<rect x="660.5" y="748.5" width="15" height="15" fill="#FF0000" stroke="#000" stroke-width="1"/>
<rect x="675.5" y="748.5" width="15" height="15" fill="#CC0000" stroke="#000" stroke-width="1"/>
<rect x="690.5" y="748.5" width="15" height="15" fill="#990000" stroke="#000" stroke-width="1"/>
<rect x="705.5" y="748.5" width="15" height="15" fill="#660000" stroke="#000" stroke-width="1"/>
<rect x="720.5" y="748.5" width="15" height="15" fill="#4C0000" stroke="#000" stroke-width="1"/>
<rect x="735.5" y="748.5" width="15" height="15" fill="#000000" stroke="#000" stroke-width="1"/>
</g>
<g font-size="8.5" font-weight="bold" fill="#000">
<text transform="translate(222,745) scale(0.94,1)">-34</text>
<text transform="translate(237,745) scale(0.94,1)">-32</text>
<text transform="translate(252,745) scale(0.94,1)">-30</text>
<text transform="translate(267,745) scale(0.94,1)">-28</text>
<text transform="translate(282,745) scale(0.94,1)">-26</text>
<text transform="translate(297,745) scale(0.94,1)">-24</text>
<text transform="translate(312,745) scale(0.94,1)">-22</text>
<text transform="translate(327,745) scale(0.94,1)">-20</text>
<text transform="translate(342,745) scale(0.94,1)">-18</text>
<text transform="translate(357,745) scale(0.94,1)">-16</text>
<text transform="translate(372,745) scale(0.94,1)">-14</text>
<text transform="translate(387,745) scale(0.94,1)">-12</text>
<text transform="translate(402,745) scale(0.94,1)">-10</text>
<text transform="translate(417,745) scale(0.94,1)">-8</text>
<text transform="translate(432,745) scale(0.94,1)">-6</text>
<text transform="translate(447,745) scale(0.94,1)">-4</text>
<text transform="translate(462,745) scale(0.94,1)">-2</text>
<text transform="translate(477,745) scale(0.94,1)">0</text>
<text transform="translate(492,745) scale(0.94,1)">2</text>
<text transform="translate(507,745) scale(0.94,1)">4</text>
<text transform="translate(522,745) scale(0.94,1)">6</text>
<text transform="translate(537,745) scale(0.94,1)">8</text>
<text transform="translate(552,745) scale(0.94,1)">10</text>
<text transform="translate(567,745) scale(0.94,1)">12</text>
<text transform="translate(582,745) scale(0.94,1)">14</text>
<text transform="translate(597,745) scale(0.94,1)">16</text>
<text transform="translate(612,745) scale(0.94,1)">18</text>
<text transform="translate(627,745) scale(0.94,1)">20</text>
<text transform="translate(642,745) scale(0.94,1)">22</text>
<text transform="translate(657,745) scale(0.94,1)">24</text>
<text transform="translate(672,745) scale(0.94,1)">26</text>
<text transform="translate(687,745) scale(0.94,1)">28</text>
<text transform="translate(702,745) scale(0.94,1)">30</text>
<text transform="translate(717,745) scale(0.94,1)">32</text>
<text transform="translate(732,745) scale(0.94,1)">34</text>
</g>
</svg>
</body></html>
